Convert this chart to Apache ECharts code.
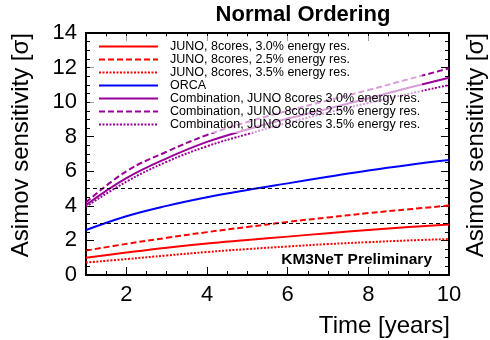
<!DOCTYPE html>
<html>
<head>
<meta charset="utf-8">
<script src="https://cdn.jsdelivr.net/npm/echarts@6/dist/echarts.min.js"></script>
<style>
  html, body { margin: 0; padding: 0; background: #fff; }
  #chart { width: 490px; height: 340px; }
</style>
</head>
<body>
<div id="chart"></div>
<script>
// 灵敏度随时间变化（Normal Ordering）
var FONT = 'Liberation Sans, Arial, Helvetica, sans-serif';

var years = [1, 2, 3, 4, 5, 6, 7, 8, 9, 10];
var juno30 = [1.0, 1.3, 1.58, 1.82, 2.02, 2.22, 2.42, 2.6, 2.77, 2.92];
var juno25 = [1.41, 1.8, 2.15, 2.48, 2.78, 3.07, 3.33, 3.58, 3.8, 4.02];
var juno35 = [0.72, 0.92, 1.13, 1.33, 1.5, 1.65, 1.79, 1.9, 2.0, 2.08];
var orca = [2.6, 3.4, 4.0, 4.5, 4.92, 5.3, 5.68, 6.05, 6.37, 6.65];
var comb30 = [4.05, 5.6, 6.75, 7.7, 8.42, 9.05, 9.62, 10.22, 10.83, 11.41];
var comb25 = [4.2, 6.0, 7.13, 8.1, 8.85, 9.5, 10.1, 10.7, 11.33, 11.95];
var comb35 = [3.95, 5.4, 6.55, 7.45, 8.15, 8.8, 9.4, 9.95, 10.48, 10.99];
var xMajor = [2, 4, 6, 8, 10];
var refLevels = [3, 5];

var names = [
    'JUNO, 8cores, 3.0% energy res.',
    'JUNO, 8cores, 2.5% energy res.',
    'JUNO, 8cores, 3.5% energy res.',
    'ORCA',
    'Combination, JUNO 8cores 3.0% energy res.',
    'Combination, JUNO 8cores 2.5% energy res.',
    'Combination, JUNO 8cores 3.5% energy res.'
];

var RED = '#ff0000', BLUE = '#0000ff', PURPLE = '#990099';

function pairs(vals) {
    return years.map(function(t, i) { return [t, vals[i]]; });
}

function lineSeries(name, vals, color, type) {
    return {
        name: name,
        type: 'line',
        xAxisIndex: 0,
        yAxisIndex: 0,
        data: pairs(vals),
        smooth: 0.4,
        symbol: 'none',
        showSymbol: false,
        silent: true,
        lineStyle: { color: color, width: 2, type: type },
        itemStyle: { color: color }
    };
}

var chart = echarts.init(document.getElementById('chart'), null, { renderer: 'canvas' });

var tickLine = { color: '#000', width: 1 };
var frameLine = { show: true, onZero: false, lineStyle: { color: '#000', width: 2 } };

function xAx(pos, major) {
    var ax = {
        type: 'value',
        position: pos,
        min: 1,
        max: 10,
        axisLine: frameLine,
        splitLine: { show: false },
        axisLabel: { show: false }
    };
    if (major) {
        ax.axisTick = { show: true, inside: true, length: 8, lineStyle: tickLine, customValues: xMajor };
        if (pos === 'bottom') {
            ax.axisLabel = {
                show: true, customValues: xMajor, margin: 9,
                fontSize: 22, fontFamily: FONT, color: '#000'
            };
        }
    } else {
        ax.interval = 0.5;
        ax.axisTick = { show: true, inside: true, length: 4, lineStyle: tickLine };
    }
    return ax;
}

function yAx(pos, labels) {
    return {
        type: 'value',
        position: pos,
        min: 0,
        max: 14,
        interval: 2,
        axisLine: frameLine,
        splitLine: { show: false },
        axisTick: { show: true, inside: true, length: 8, lineStyle: tickLine },
        minorTick: { show: true, splitNumber: 4, length: 4, lineStyle: tickLine },
        axisLabel: {
            show: labels, margin: 9, fontSize: 22, fontFamily: FONT, color: '#000'
        }
    };
}

var series = [
    lineSeries(names[0], juno30, RED, 'solid'),
    lineSeries(names[1], juno25, RED, [6, 3]),
    lineSeries(names[2], juno35, RED, [2, 1.5]),
    lineSeries(names[3], orca, BLUE, 'solid'),
    lineSeries(names[4], comb30, PURPLE, 'solid'),
    lineSeries(names[5], comb25, PURPLE, [6, 3]),
    lineSeries(names[6], comb35, PURPLE, [2, 1.5])
];

// 3σ / 5σ 参考线
series.push({
    type: 'line',
    data: [],
    xAxisIndex: 0,
    yAxisIndex: 0,
    silent: true,
    markLine: {
        silent: true,
        symbol: 'none',
        label: { show: false },
        lineStyle: { color: '#000', width: 1, type: [4, 3] },
        data: refLevels.map(function(v) { return { yAxis: v }; })
    }
});

var option = {
    animation: false,
    grid: { left: 86, right: 41, top: 33, bottom: 65, containLabel: false },
    xAxis: [xAx('bottom', false), xAx('bottom', true), xAx('top', false), xAx('top', true)],
    yAxis: [yAx('left', true), yAx('right', false)],
    legend: {
        data: names,
        orient: 'vertical',
        left: 90,
        top: 36,
        padding: [4, 2, 2, 8],
        itemGap: 0,
        itemWidth: 59,
        itemHeight: 10,
        backgroundColor: 'rgba(255,255,255,0.62)',
        selectedMode: false,
        itemStyle: { color: 'transparent', borderColor: 'transparent', borderWidth: 0, opacity: 0 },
        textStyle: {
            fontSize: 12.5,
            fontFamily: FONT,
            color: '#000',
            lineHeight: 12.77,
            padding: [0, 0, 0, 7]
        }
    },
    series: series,
    graphic: [
        {
            type: 'text', x: 303, y: 15,
            style: { text: 'Normal Ordering', font: 'bold 22px ' + FONT, fill: '#000',
                align: 'center', verticalAlign: 'middle' }
        },
        {
            type: 'text', x: 21, y: 33, rotation: Math.PI / 2,
            style: { text: 'Asimov sensitivity [σ]', font: '24px ' + FONT, fill: '#000',
                align: 'right', verticalAlign: 'middle' }
        },
        {
            type: 'text', x: 476, y: 33, rotation: Math.PI / 2,
            style: { text: 'Asimov sensitivity [σ]', font: '24px ' + FONT, fill: '#000',
                align: 'right', verticalAlign: 'middle' }
        },
        {
            type: 'text', x: 450, y: 326,
            style: { text: 'Time [years]', font: '24px ' + FONT, fill: '#000',
                align: 'right', verticalAlign: 'middle' }
        },
        {
            type: 'text', x: 432, y: 260, z: 10,
            style: { text: 'KM3NeT Preliminary', font: 'bold 15.5px ' + FONT, fill: '#000',
                align: 'right', verticalAlign: 'middle' }
        }
    ]
};

chart.setOption(option);
</script>
</body>
</html>
